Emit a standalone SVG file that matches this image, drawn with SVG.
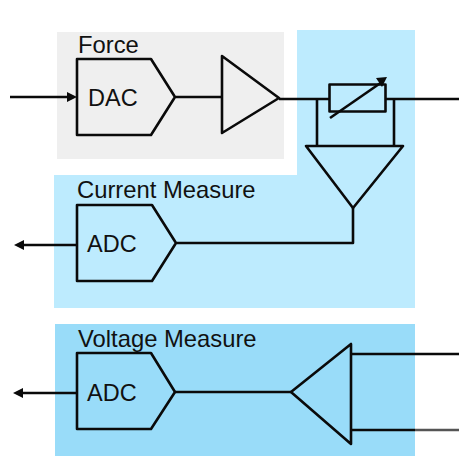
<svg xmlns="http://www.w3.org/2000/svg" width="459" height="472" viewBox="0 0 459 472">
<style>
.s{fill:none;stroke:#0a0a0a;stroke-width:2.6;stroke-linejoin:round}
.h{fill:#0a0a0a;stroke:none}
.t{font-family:"Liberation Sans",Arial,sans-serif;font-size:23.500px;fill:#111}
.l{font-family:"Liberation Sans",Arial,sans-serif;font-size:23.800px;fill:#111}
</style>
<g id="backgrounds">
<rect x="57" y="32" width="227" height="127" fill="#efefef"/>
<path d="M297 30H415V308H54V175H297Z" fill="#bdebfe"/>
<rect x="55" y="324" width="360" height="132" fill="#99dcf9"/>
</g>
<g id="connectors">
<path class="s" d="M10 97H70"/><path class="h" d="M67 92L77 97L67 102Z"/>
<path class="s" d="M176 97H222"/>
<path class="s" d="M279 99H329M386 99H459"/>
<path class="s" d="M317 99V146M394 99V146"/>
<path class="s" d="M353 208V243H177"/>
<path class="s" d="M77 245H22"/><path class="h" d="M14 245L24 240V250Z"/>
<path class="s" d="M77 393H22"/><path class="h" d="M13 393L23 388V398Z"/>
<path class="s" d="M175 392H291"/>
<path class="s" d="M351 354H459"/>
<path d="M351 430H415" fill="none" stroke="#0a0a0a" stroke-width="2.600"/>
<path d="M415 430H459" fill="none" stroke="#555" stroke-width="2.600"/>
</g>
<g id="force-label"><text class="l" x="78" y="53">Force</text></g>
<g id="dac"><path class="s" d="M77 59H151L175 97L151 135H77Z"/><text class="t" x="88" y="106">DAC</text></g>
<g id="force-amp"><path class="s" d="M222 56L279 98L222 133Z"/></g>
<g id="resistor"><rect class="s" x="329.500" y="84.500" width="56" height="27"/><path class="s" d="M330 118L382 82"/><path class="h" d="M376 78L387 77L382 87Z"/></g>
<g id="current-amp"><path class="s" d="M306 146H403L353 208Z"/></g>
<g id="current-label"><text class="l" x="77" y="198">Current Measure</text></g>
<g id="adc-current"><path class="s" d="M77 205H152L176 243L152 281H77Z"/><text class="t" x="87" y="252">ADC</text></g>
<g id="voltage-label"><text class="l" x="78" y="347">Voltage Measure</text></g>
<g id="adc-voltage"><path class="s" d="M77 353H151L175 392L151 429H77Z"/><text class="t" x="87" y="401">ADC</text></g>
<g id="voltage-amp"><path class="s" d="M351 344V444L291 392Z"/></g>
</svg>
